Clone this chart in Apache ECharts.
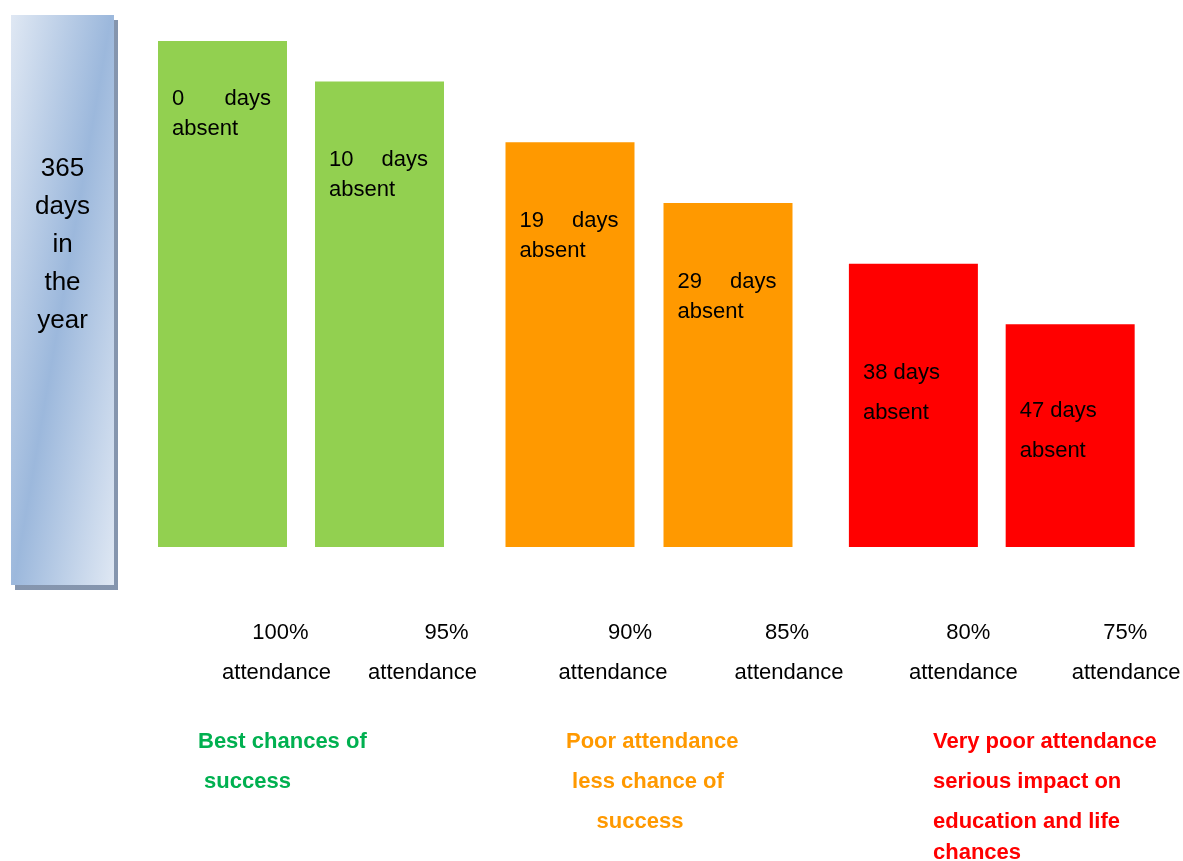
<!DOCTYPE html>
<html>
<head>
<meta charset="utf-8">
<title>Attendance</title>
<script src="https://cdn.jsdelivr.net/npm/echarts@6/dist/echarts.min.js"></script>
<style>
  html, body { margin: 0; padding: 0; background: #fff; }
  #chart { width: 1183px; height: 861px; }
</style>
</head>
<body>
<div id="chart"></div>
<script>
// data
var categories = ['100%', '95%', '90%', '85%', '80%', '75%'];
var absentDays = [0, 10, 19, 29, 38, 47];
var barHeights = [100, 92, 80, 68, 56, 44];   // relative height of each bar as drawn
var daysInYear = 365;
var groupOf = [0, 0, 1, 1, 2, 2];
var captions = [
    'Best chances of\n success',
    'Poor attendance\n less chance of\n     success',
    'Very poor attendance\nserious impact on\neducation and life'
];

// styles
var font = "'Liberation Sans', Arial, sans-serif";
var groupColors = ['#92d050', '#ff9900', '#ff0000'];
var captionColors = ['#00b050', '#ff9900', '#ff0000'];
var captionLeft = [198, 566, 933];
var groupLeft = [144, 491, 835];
var groupWidth = [314, 316, 316];
var labelTop = [43, 63, 64, 64, 89, 67];
var justified = [true, true, true, true, false, false];
// tick labels sit right of the bar centre, each line by its own amount
var pctShift = [58, 67, 60, 59, 55, 55];
var attShift = [54, 43, 43, 61, 50, 56];

var chart = echarts.init(document.getElementById('chart'));

var grids = [{ left: 11, width: 103, top: 15, bottom: 276 }];
var xAxes = [{ type: 'category', gridIndex: 0, data: ['year'], show: false }];
var yAxes = [{ type: 'value', gridIndex: 0, min: 0, max: daysInYear, show: false }];
var series = [{
    type: 'bar',
    xAxisIndex: 0,
    yAxisIndex: 0,
    barWidth: 103,
    data: [daysInYear],
    itemStyle: {
        color: new echarts.graphic.LinearGradient(-0.47, 0.47, 1.47, 0.53, [
            { offset: 0, color: '#e1e9f4' },
            { offset: 0.5, color: '#9cb8dc' },
            { offset: 1, color: '#e1e9f4' }
        ]),
        shadowColor: 'rgba(120,138,165,0.9)',
        shadowOffsetX: 4,
        shadowOffsetY: 5,
        shadowBlur: 0
    },
    label: {
        show: true,
        position: 'insideTop',
        distance: 135,
        formatter: daysInYear + '\ndays\nin\nthe\nyear',
        color: '#000',
        fontFamily: font,
        fontSize: 26,
        lineHeight: 38,
        align: 'center'
    }
}];

var labelRich = {
    n: { color: '#000', fontFamily: font, fontSize: 22, lineHeight: 30 },
    d: { color: '#000', fontFamily: font, fontSize: 22, lineHeight: 30, align: 'right' },
    t: { color: '#000', fontFamily: font, fontSize: 22, lineHeight: 30 },
    r: { color: '#000', fontFamily: font, fontSize: 22, lineHeight: 40 }
};

// one rich style pair per tick label
var tickRich = {};
categories.forEach(function (c, i) {
    tickRich['p' + i] = { color: '#000', fontFamily: font, fontSize: 22, lineHeight: 40, padding: [0, 0, 0, pctShift[i] * 2] };
    tickRich['q' + i] = { color: '#000', fontFamily: font, fontSize: 22, lineHeight: 40, padding: [0, 0, 0, attShift[i] * 2] };
});

for (var g = 0; g < 3; g++) {
    var cats = [];
    var items = [];
    for (var i = 0; i < categories.length; i++) {
        if (groupOf[i] !== g) continue;
        cats.push(categories[i]);
        var lab = { offset: [14, labelTop[i]] };
        if (justified[i]) {
            lab.formatter = '{n|' + absentDays[i] + '}{d|days}\n{t|absent}';
            lab.width = 99;
        } else {
            lab.formatter = '{r|' + absentDays[i] + ' days}\n{r|absent}';
        }
        items.push({ value: barHeights[i], label: lab });
    }
    grids.push({ left: groupLeft[g], width: groupWidth[g], top: 41, bottom: 314 });
    xAxes.push({
        type: 'category',
        gridIndex: g + 1,
        data: cats,
        axisLine: { show: false },
        axisTick: { show: false },
        axisLabel: {
            interval: 0,
            margin: 66,
            formatter: function (v) {
                var k = categories.indexOf(v);
                return '{p' + k + '|' + v + '}\n{q' + k + '|attendance}';
            },
            rich: tickRich
        }
    });
    yAxes.push({ type: 'value', gridIndex: g + 1, min: 0, max: 100, show: false });
    series.push({
        type: 'bar',
        xAxisIndex: g + 1,
        yAxisIndex: g + 1,
        barWidth: 129,
        itemStyle: { color: groupColors[g] },
        label: {
            show: true,
            position: 'insideTopLeft',
            distance: 0,
            color: '#000',
            fontFamily: font,
            fontSize: 22,
            rich: labelRich
        },
        data: items
    });
}

var graphics = captions.map(function (c, k) {
    return {
        type: 'text',
        left: captionLeft[k],
        top: 722,
        style: {
            text: c,
            fill: captionColors[k],
            fontFamily: font,
            fontSize: 22,
            fontWeight: 'bold',
            lineHeight: 40
        }
    };
});
graphics.push({
    type: 'text',
    left: 933,
    top: 838,
    style: {
        text: 'chances',
        fill: captionColors[2],
        fontFamily: font,
        fontSize: 22,
        fontWeight: 'bold',
        lineHeight: 30
    }
});

chart.setOption({
    backgroundColor: '#fff',
    animation: false,
    grid: grids,
    xAxis: xAxes,
    yAxis: yAxes,
    series: series,
    graphic: graphics
});
</script>
</body>
</html>
